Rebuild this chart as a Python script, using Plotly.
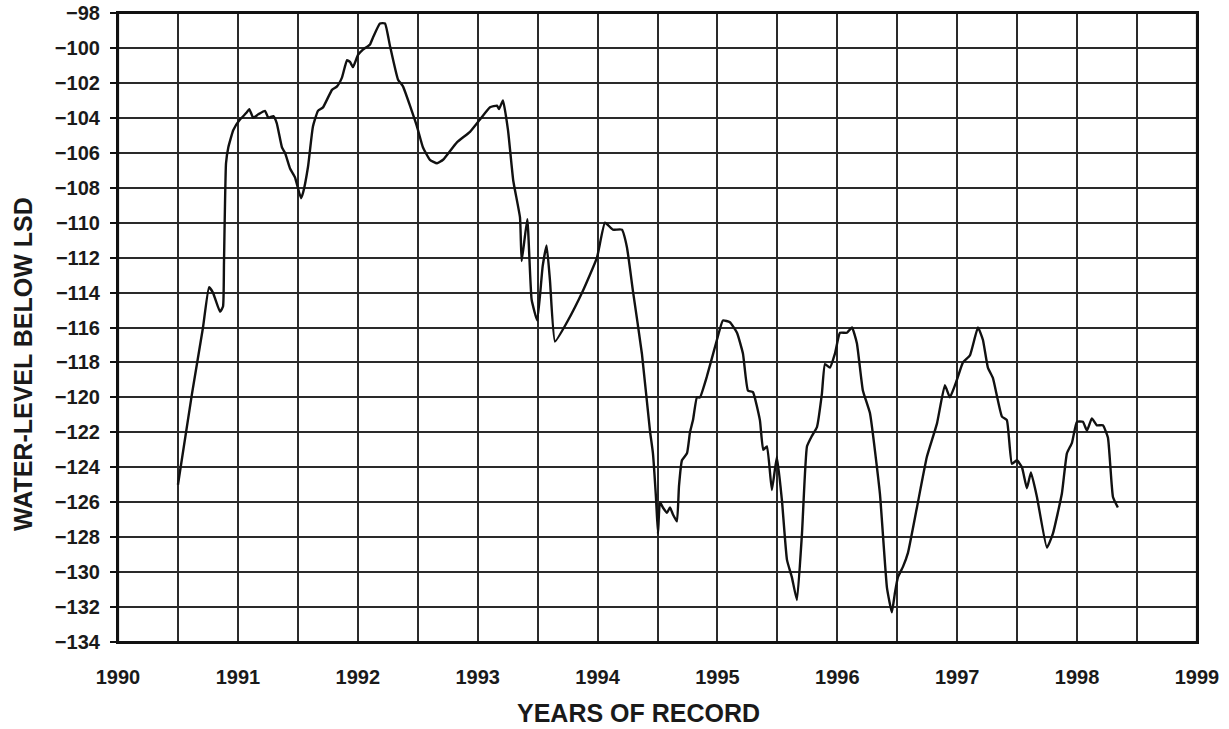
import plotly.graph_objects as go

# Water-level record (decimal year, feet relative to land-surface datum)
years = [
    1990.500, 1990.617, 1990.709, 1990.759, 1990.792, 1990.851, 1990.876, 1990.884, 1990.901,
    1990.920, 1990.962, 1991.017, 1991.073, 1991.095, 1991.128, 1991.170, 1991.226, 1991.254,
    1991.296, 1991.324, 1991.368, 1991.393, 1991.435, 1991.476, 1991.526, 1991.543, 1991.585,
    1991.626, 1991.668, 1991.710, 1991.785, 1991.827, 1991.868, 1991.910, 1991.935, 1991.960,
    1992.002, 1992.043, 1992.102, 1992.127, 1992.185, 1992.227, 1992.269, 1992.335, 1992.377,
    1992.494, 1992.544, 1992.602, 1992.661, 1992.711, 1992.827, 1992.936, 1993.019, 1993.103,
    1993.161, 1993.178, 1993.211, 1993.253, 1993.297, 1993.353, 1993.367, 1993.414, 1993.450,
    1993.497, 1993.542, 1993.575, 1993.603, 1993.645, 1993.745, 1993.878, 1993.995, 1994.062,
    1994.128, 1994.203, 1994.245, 1994.295, 1994.370, 1994.437, 1994.462, 1994.487, 1994.504,
    1994.520, 1994.545, 1994.579, 1994.604, 1994.629, 1994.662, 1994.679, 1994.704, 1994.746,
    1994.771, 1994.796, 1994.829, 1994.854, 1994.912, 1994.996, 1995.046, 1995.104, 1995.163,
    1995.213, 1995.254, 1995.296, 1995.354, 1995.382, 1995.413, 1995.454, 1995.496, 1995.538,
    1995.580, 1995.621, 1995.663, 1995.705, 1995.747, 1995.788, 1995.830, 1995.871, 1995.897,
    1995.938, 1995.980, 1996.022, 1996.080, 1996.122, 1996.163, 1996.213, 1996.272, 1996.355,
    1996.414, 1996.455, 1996.480, 1996.505, 1996.547, 1996.589, 1996.664, 1996.747, 1996.831,
    1996.897, 1996.939, 1996.997, 1997.048, 1997.106, 1997.173, 1997.214, 1997.256, 1997.298,
    1997.373, 1997.414, 1997.456, 1997.498, 1997.540, 1997.581, 1997.615, 1997.665, 1997.748,
    1997.798, 1997.873, 1997.915, 1997.957, 1997.998, 1998.048, 1998.082, 1998.123, 1998.165,
    1998.215, 1998.257, 1998.299, 1998.340,
]
levels = [
    -125.0, -119.8, -116.0, -113.7, -114.0, -115.1, -114.8, -112.3, -106.6,
    -105.7, -104.7, -104.1, -103.7, -103.5, -104.0, -103.8, -103.6, -104.0,
    -103.9, -104.3, -105.7, -106.0, -106.9, -107.4, -108.6, -108.3, -106.8,
    -104.5, -103.6, -103.4, -102.4, -102.2, -101.7, -100.7, -100.8, -101.1,
    -100.4, -100.1, -99.8, -99.4, -98.6, -98.6, -99.9, -101.8, -102.2,
    -104.5, -105.7, -106.4, -106.6, -106.4, -105.4, -104.8, -104.1, -103.4,
    -103.3, -103.5, -103.0, -104.7, -107.6, -109.7, -112.2, -109.8, -114.4,
    -115.6, -112.5, -111.3, -113.3, -116.8, -115.7, -113.9, -112.0, -110.0,
    -110.4, -110.4, -111.4, -113.9, -117.5, -121.9, -123.2, -125.7, -127.8,
    -126.0, -126.3, -126.6, -126.3, -126.7, -127.1, -125.1, -123.6, -123.2,
    -122.0, -121.3, -120.0, -120.0, -118.8, -116.7, -115.6, -115.7, -116.3,
    -117.5, -119.6, -119.7, -121.3, -123.0, -122.8, -125.3, -123.4, -125.9,
    -129.3, -130.3, -131.6, -127.8, -122.8, -122.2, -121.7, -119.8, -118.1,
    -118.3, -117.5, -116.3, -116.3, -116.0, -116.9, -119.6, -120.9, -125.5,
    -130.9, -132.3, -131.2, -130.3, -129.7, -128.9, -126.3, -123.4, -121.5,
    -119.3, -120.0, -119.0, -118.0, -117.6, -116.0, -116.7, -118.3, -118.9,
    -121.1, -121.3, -123.8, -123.6, -124.0, -125.2, -124.3, -125.7, -128.6,
    -127.8, -125.5, -123.2, -122.6, -121.4, -121.4, -121.9, -121.2, -121.6,
    -121.6, -122.3, -125.7, -126.3,
]

x_tick_vals = [1990 + 0.5 * i for i in range(19)]
x_tick_text = [str(int(v)) if v == int(v) else "" for v in x_tick_vals]
y_tick_vals = list(range(-134, -97, 2))

x_title = "YEARS OF RECORD"
y_title = "WATER-LEVEL BELOW LSD"

FONT = "Liberation Sans, Arial, sans-serif"
GRID = "#2a2a2a"

W, H = 1229, 729
L, T, R, B = 118, 13, 32, 87
PW, PH = W - L - R, H - T - B

fig = go.Figure()
fig.add_trace(go.Scatter(
    x=years, y=levels, mode="lines",
    line=dict(color="#111111", width=2.4, shape="spline", smoothing=0.4),
    showlegend=False,
))

fig.update_layout(
    width=W, height=H,
    margin=dict(l=L, r=R, t=T, b=B, autoexpand=False),
    paper_bgcolor="white", plot_bgcolor="white",
    font=dict(family=FONT, color="#1a1a1a"),
    xaxis=dict(
        range=[1990, 1999], tickmode="array", tickvals=x_tick_vals, ticktext=x_tick_text,
        showgrid=True, gridcolor=GRID, gridwidth=1.6,
        showline=True, linecolor="#111111", linewidth=2.2, mirror=True,
        ticks="", zeroline=False, automargin=False, ticklabeloverflow="allow",
        tickfont=dict(family=FONT, size=20, weight="bold", color="#1a1a1a"),
        ticklabelstandoff=16,
    ),
    yaxis=dict(
        range=[-134, -98], tickmode="array", tickvals=y_tick_vals,
        showgrid=True, gridcolor=GRID, gridwidth=1.6,
        showline=True, linecolor="#111111", linewidth=2.2, mirror=True,
        ticks="outside", ticklen=6, tickwidth=1.6, tickcolor="#111111", zeroline=False,
        automargin=False, ticklabeloverflow="allow",
        tickfont=dict(family=FONT, size=20, weight="bold", color="#1a1a1a"),
        ticklabelstandoff=6,
    ),
    shapes=[
        dict(type="rect", xref="paper", yref="paper", x0=0, x1=1, y0=0, y1=1,
             line=dict(color="#111111", width=2.2), fillcolor="rgba(0,0,0,0)", layer="above"),
    ],
    annotations=[
        dict(text=x_title, xref="paper", yref="paper", x=(638 - L) / PW, y=-(713 - (H - B)) / PH,
             showarrow=False, xanchor="center", yanchor="middle",
             font=dict(family=FONT, size=25, weight="bold", color="#1a1a1a")),
        dict(text=y_title, xref="paper", yref="paper", x=-(L - 23) / PW, y=((H - B) - 364) / PH,
             showarrow=False, xanchor="center", yanchor="middle", textangle=-90,
             font=dict(family=FONT, size=25, weight="bold", color="#1a1a1a")),
    ],
)

fig.write_html(
    "out.html",
    config={"displayModeBar": False},
    post_script="document.body.style.margin='0';document.body.style.overflow='hidden';",
)
